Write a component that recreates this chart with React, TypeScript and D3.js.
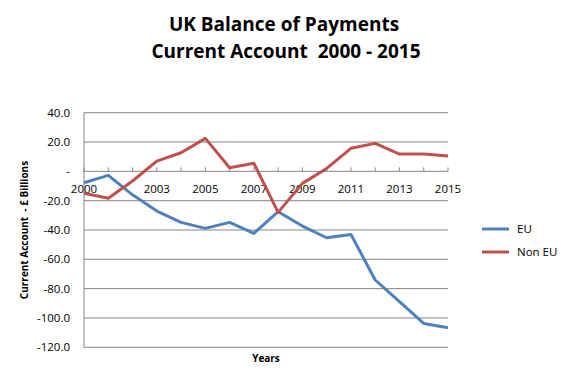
import React from "react";
import * as d3 from "d3";

const years = d3.range(2000, 2016);
const euValues = [-7.8, -2.7, -16, -27.1, -34.8, -38.9, -34.8, -42.3, -27.5, -37.3, -45.3, -43.0, -74.1, -88.9, -103.7, -106.7];
const nonEuValues = [-15.0, -18.4, -6.6, 7.0, 12.7, 22.5, 2.5, 5.5, -28.0, -8.2, 2.0, 15.7, 19.1, 11.8, 11.8, 10.4];
const yTicks = [40, 20, 0, -20, -40, -60, -80, -100, -120];
const xLabelYears = [2000, 2003, 2005, 2007, 2009, 2011, 2013, 2015];
const seriesNames = ["EU", "Non EU"];
const colors = ["#4F81BD", "#C0504D"];

const W = 567, H = 379;
const FONT = "'Open Sans', Lato, sans-serif";

export default function App() {
  const x = d3.scaleLinear().domain([2000, 2015]).range([84, 448]);
  const y = d3.scaleLinear().domain([-120, 40]).range([347.3, 112.7]);
  const line = d3.line<number>().x((_, i) => x(years[i])).y((d) => y(d));
  const series = [euValues, nonEuValues];

  return (
    <svg width={W} height={H} style={{ position: "absolute", left: 0, top: 0, background: "#fff" }}>
      <rect width={W} height={H} fill="#fff" />
      <text x={284} y={31} textAnchor="middle" fontFamily={FONT} fontWeight="bold" fontSize={19} fill="#000">
        UK Balance of Payments
      </text>
      <text x={286} y={58} textAnchor="middle" fontFamily={FONT} fontWeight="bold" fontSize={19} fill="#000" style={{ whiteSpace: "pre" }}>
        {"Current Account  2000 - 2015"}
      </text>
      {yTicks.map((t) => (
        <g key={t}>
          {t !== 0 && <line x1={x(2000)} x2={x(2015)} y1={y(t)} y2={y(t)} stroke="#868686" strokeWidth={1} />}
          <text x={70} y={y(t) + 4} textAnchor="end" fontFamily={FONT} fontSize={11.5} fill="#000">
            {t === 0 ? "-" : t.toFixed(1)}
          </text>
        </g>
      ))}
      <line x1={x(2000)} x2={x(2000)} y1={y(40)} y2={y(-120)} stroke="#868686" strokeWidth={1} />
      <line x1={x(2000)} x2={x(2015)} y1={y(0)} y2={y(0)} stroke="#868686" strokeWidth={1} />
      {years.map((yr) => (
        <line key={yr} x1={x(yr)} x2={x(yr)} y1={y(0)} y2={y(0) - 4} stroke="#868686" strokeWidth={1} />
      ))}
      {xLabelYears.map((yr) => (
        <text key={yr} x={x(yr)} y={193} textAnchor="middle" fontFamily={FONT} fontSize={11.5} fill="#000">
          {yr}
        </text>
      ))}
      {series.map((s, i) => (
        <path key={i} d={line(s) || ""} fill="none" stroke={colors[i]} strokeWidth={3} strokeLinejoin="round" />
      ))}
      <text transform={`translate(28,${(y(40) + y(-120)) / 2}) rotate(-90)`} textAnchor="middle" fontFamily={FONT} fontWeight="bold" fontSize={10} fill="#000" style={{ whiteSpace: "pre" }}>
        {"Current Account  - £ Billions"}
      </text>
      <text x={266} y={362} textAnchor="middle" fontFamily={FONT} fontWeight="bold" fontSize={10} fill="#000">
        Years
      </text>
      {seriesNames.map((n, i) => (
        <g key={n}>
          <line x1={482} x2={509} y1={229 + i * 23} y2={229 + i * 23} stroke={colors[i]} strokeWidth={3} />
          <text x={517} y={233 + i * 23} fontFamily={FONT} fontSize={11.5} fill="#000">
            {n}
          </text>
        </g>
      ))}
    </svg>
  );
}
